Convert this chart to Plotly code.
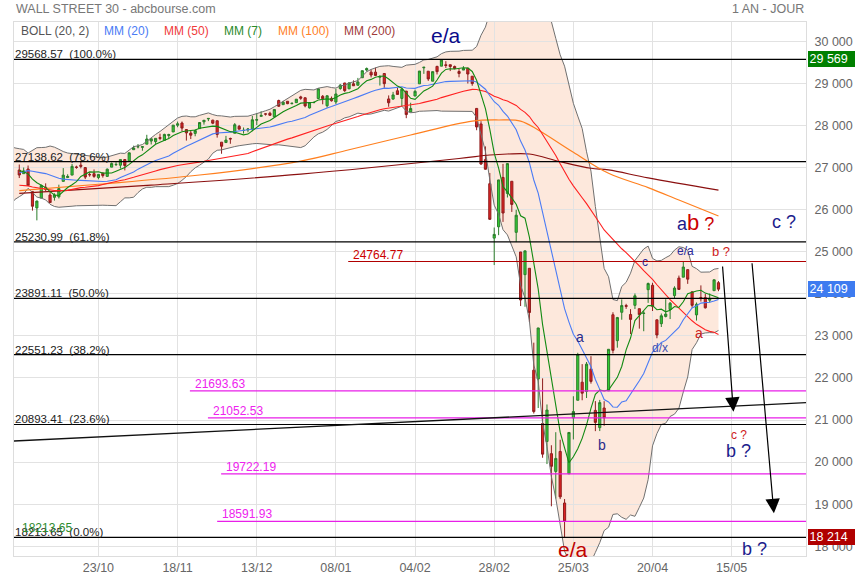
import pandas as pd
import plotly.graph_objects as go

# ---------------- data ----------------
# closes before the first visible bar (only used to seed MM(7), MM(20), MM(50), BOLL(20,2))
prior_close = [27220, 27223, 27154, 27172, 27349, 27270, 27141, 27192, 27221, 27198, 26864,
               26583, 26485, 25718, 26030, 26007, 26378, 26287, 25896, 26280, 25479, 25579,
               25886, 26136, 25962, 26203, 26252, 25629, 25899, 25778, 26036, 26362, 26403,
               26118, 26355, 26728, 26797, 26836, 26909, 27137, 27182, 27220, 27077, 27111,
               27147, 27095, 26935, 26950, 26808, 26971, 26891]

open_ = [26939, 26852, 26962, 26425, 26039, 26272, 26528, 26346, 26290, 26303, 26669, 26760, 26818, 27011,
         27054, 26996, 26831, 26851, 26760, 26863, 26787, 27007, 27067, 27053, 27186, 27154, 27421, 27492,
         27477, 27553, 27627, 27614, 27709, 27644, 27757, 27843, 28002, 28055, 27900, 27816, 27809, 27922,
         28084, 28154, 28123, 28109, 27600, 27591, 27688, 27812, 27977, 27878, 27891, 27913, 28123, 28213,
         28272, 28287, 28204, 28590, 28491, 28572, 28515, 28539, 28676, 28654, 28414, 28538, 28638, 28690,
         28466, 28640, 28556, 28874, 29006, 28868, 28988, 28953, 29131, 29313, 29263, 29264, 29141, 29231,
         28627, 28624, 28821, 28640, 28813, 28319, 28696, 28986, 29367, 29286, 29049, 29400, 29406, 29438,
         29440, 29398, 29279, 29313, 29359, 29167, 28402, 28033, 27185, 26614, 25321, 25590, 26762, 26383,
         26671, 25458, 24992, 24453, 24604, 22184, 21973, 20917, 20490, 20200, 19778, 20253, 19028, 19722,
         21050, 21469, 21898, 21679, 22208, 21228, 20819, 21285, 21693, 23500, 22885, 23559, 23719, 23507,
         23724, 23644, 23530, 24096, 24200, 23379, 23288, 23460, 23625, 23955, 24371, 24393, 24572, 24045,
         23497, 23911, 23906, 23846, 24072, 24262]
high = [27069, 26998, 27046, 26425, 26211, 26593, 26622, 26446, 26387, 26590, 26984, 26838, 27084, 27041,
        27137, 27008, 26879, 26952, 26843, 26882, 26974, 27117, 27124, 27189, 27200, 27353, 27517, 27556,
        27502, 27775, 27682, 27695, 27802, 27801, 27800, 28005, 28089, 28091, 27910, 27873, 27901, 28076,
        28121, 28175, 28133, 28109, 27600, 27750, 27707, 28054, 28010, 27949, 27937, 28224, 28290, 28337,
        28290, 28324, 28377, 28610, 28582, 28576, 28535, 28621, 28702, 28664, 28548, 28560, 28873, 28720,
        28708, 28685, 28866, 28978, 29009, 29009, 29068, 29127, 29300, 29374, 29332, 29373, 29189, 29232,
        28711, 28795, 28893, 28892, 28813, 28537, 28848, 29290, 29380, 29286, 29277, 29415, 29569, 29525,
        29441, 29420, 29345, 29407, 29359, 29167, 28402, 28098, 27500, 26868, 25573, 26706, 27084, 27102,
        26671, 25995, 24992, 25020, 24604, 22837, 23190, 21989, 21369, 20400, 20710, 20531, 19122, 20704,
        21564, 22596, 22327, 22378, 22516, 21449, 21477, 21447, 22680, 23560, 23449, 23865, 23760, 23633,
        24006, 23644, 23588, 24265, 24260, 23384, 23530, 23869, 23804, 24176, 24431, 24765, 24572, 24045,
        23791, 24198, 24000, 24006, 24332, 24300]
low = [26748, 26852, 26562, 25974, 25743, 26272, 26439, 26156, 26212, 26262, 26669, 26748, 26818, 26969,
       26978, 26722, 26780, 26754, 26719, 26758, 26787, 27007, 27033, 26974, 26929, 27154, 27421, 27453,
       27396, 27553, 27546, 27560, 27646, 27638, 27700, 27843, 27955, 27864, 27638, 27674, 27740, 27922,
       28016, 28100, 28027, 27708, 27325, 27586, 27562, 27812, 27906, 27804, 27836, 27860, 28004, 28213,
       28232, 28228, 28197, 28438, 28491, 28503, 28500, 28539, 28608, 28428, 28400, 28530, 28627, 28500,
       28420, 28565, 28503, 28846, 28794, 28859, 28946, 28945, 29131, 29280, 29138, 29171, 28946, 28893,
       28441, 28608, 28735, 28458, 28170, 28319, 28696, 28986, 29223, 29056, 29049, 29209, 29406, 29363,
       29289, 29330, 29141, 29313, 28993, 28940, 27884, 27060, 26947, 25755, 24681, 25391, 25706, 26286,
       25943, 25227, 23707, 23690, 23328, 21154, 21285, 20103, 19953, 18950, 19134, 19121, 18214, 19722,
       20538, 21469, 21469, 21522, 21864, 20735, 20737, 20863, 21693, 22581, 22718, 23382, 23640, 23042,
       23636, 23170, 23109, 23783, 23589, 22942, 23209, 23437, 23398, 23876, 24094, 24393, 24234, 23666,
       23362, 23814, 23648, 23793, 24072, 24060]
close = [26820, 26917, 26573, 26078, 26201, 26573, 26478, 26165, 26347, 26497, 26817, 26787, 27025, 27001,
         27026, 26770, 26827, 26788, 26834, 26806, 26958, 27091, 27071, 27186, 27046, 27347, 27462, 27492,
         27493, 27675, 27681, 27691, 27691, 27784, 27782, 28005, 28036, 27934, 27821, 27766, 27876, 28067,
         28121, 28164, 28051, 27783, 27503, 27650, 27677, 28015, 27909, 27881, 27911, 28132, 28135, 28235,
         28267, 28239, 28377, 28455, 28551, 28515, 28525, 28621, 28645, 28462, 28538, 28545, 28868, 28634,
         28703, 28584, 28745, 28957, 28824, 29009, 28940, 29030, 29298, 29348, 29196, 29186, 29160, 28990,
         28536, 28723, 28734, 28859, 28256, 28400, 28808, 29290, 29380, 29103, 29276, 29276, 29551, 29423,
         29398, 29350, 29232, 29348, 29219, 28992, 27961, 27081, 26957, 25767, 25409, 26703, 25917, 27091,
         26121, 25865, 23851, 25018, 23553, 21200, 23186, 20189, 21237, 19899, 20087, 19174, 18592, 20704,
         21200, 22552, 21637, 22327, 21917, 20943, 21413, 21053, 22680, 22654, 23434, 23719, 23700, 23390,
         23950, 23505, 23538, 24242, 23700, 23019, 23475, 23516, 23775, 24134, 24102, 24634, 24346, 23724,
         23750, 23883, 23665, 23876, 24331, 24109]

# moving averages MM(100) / MM(200) (bar index, value)
mm100_idx = [0, 18, 41, 64, 75, 89, 103, 109, 114, 118, 126, 134, 143, 150, 159]
mm100_val = [26450, 26600, 26820, 27150, 27420, 27770, 28100, 28127, 28100, 27890, 27360, 26860, 26520, 26225, 25845]
mm200_idx = [0, 30, 64, 100, 107, 111, 116, 123, 130, 134, 143, 159]
mm200_val = [26384, 26580, 26840, 27212, 27295, 27319, 27319, 27137, 26980, 26940, 26750, 26460]

tick_pos = [18, 36, 54, 72, 90, 108, 126, 144, 162]
tick_labels = ["23/10", "18/11", "13/12", "08/01", "04/02", "28/02", "25/03", "20/04", "15/05"]

fib_high = 29568.57
fib_low = 18213.65
fib_ratios = [1.0, 0.786, 0.618, 0.5, 0.382, 0.236, 0.0]

magenta_levels = [21693.63, 21052.53, 19722.19, 18591.93]
magenta_from = [38.8, 42.9, 45.9, 45.0]
red_level = 24764.77
red_from = 74.8

trend_x = [-1.2, 178.9]
trend_y = [20501, 21411]

arrow_tail_x = [159.9, 166.6]
arrow_tail_y = [24682, 24760]
arrow_head_x = [162.4, 171.6]
arrow_head_y = [21197, 18783]

# ---------------- computations ----------------
n = len(close)
xs = list(range(n))
off = len(prior_close)
allc = pd.Series(prior_close + close, dtype=float)
mm7 = allc.rolling(7).mean().iloc[off:].tolist()
mm20_all = allc.rolling(20).mean()
sd20_all = allc.rolling(20).std(ddof=0)
mm20 = mm20_all.iloc[off:].tolist()
mm50 = allc.rolling(50).mean().iloc[off:].tolist()
bb_up = (mm20_all + 2 * sd20_all).iloc[off - 2:].tolist()
bb_lo = (mm20_all - 2 * sd20_all).iloc[off - 2:].tolist()
bb_x = list(range(-2, n))

XR = [-1.2, 178.9]
YR = [17769, 30455]
FONT = "Liberation Sans, Arial, sans-serif"


def fmt_sp(v):
    return f"{v:,.0f}".replace(",", " ")


fig = go.Figure()

shapes = []
annotations = []

# Bollinger band area: a filled path in data coordinates, kept below the grid and the candles
pts = [(x, y) for x, y in zip(bb_x, bb_up)] + [(x, y) for x, y in zip(bb_x[::-1], bb_lo[::-1])]
band_path = "M " + " L ".join(f"{x},{y:.2f}" for x, y in pts) + " Z"
shapes.append(dict(type="path", xref="x", yref="y", path=band_path, fillcolor="#fde8dc",
                   line=dict(width=0), layer="below"))

fig.add_trace(go.Candlestick(
    x=xs, open=open_, high=high, low=low, close=close,
    increasing=dict(line=dict(color="#2b7d2b", width=1), fillcolor="#33cc33"),
    decreasing=dict(line=dict(color="#8e1d1d", width=1), fillcolor="#dd2222"),
    whiskerwidth=0, hoverinfo="skip", showlegend=False))

fig.add_trace(go.Scatter(x=bb_x, y=bb_up, mode="lines", line=dict(color="#707070", width=1),
                         hoverinfo="skip", showlegend=False))
fig.add_trace(go.Scatter(x=bb_x, y=bb_lo, mode="lines", line=dict(color="#707070", width=1),
                         hoverinfo="skip", showlegend=False))
fig.add_trace(go.Scatter(x=mm200_idx, y=mm200_val, mode="lines", line=dict(color="#8b1010", width=1.2, shape="spline"),
                         hoverinfo="skip", showlegend=False))
fig.add_trace(go.Scatter(x=mm100_idx, y=mm100_val, mode="lines", line=dict(color="#ff7f1e", width=1.2, shape="spline"),
                         hoverinfo="skip", showlegend=False))
fig.add_trace(go.Scatter(x=xs, y=mm50, mode="lines", line=dict(color="#ff2020", width=1.1),
                         hoverinfo="skip", showlegend=False))
fig.add_trace(go.Scatter(x=xs, y=mm20, mode="lines", line=dict(color="#4a7bf5", width=1.1),
                         hoverinfo="skip", showlegend=False))
fig.add_trace(go.Scatter(x=xs, y=mm7, mode="lines", line=dict(color="#128a12", width=1.1),
                         hoverinfo="skip", showlegend=False))

# Fibonacci retracement lines and labels
for r in fib_ratios:
    lvl = fib_low + r * (fib_high - fib_low)
    shapes.append(dict(type="line", xref="x domain", x0=0, x1=1, yref="y", y0=lvl, y1=lvl,
                       line=dict(color="#000000", width=1.2)))
    annotations.append(dict(xref="paper", x=0, xanchor="left", yref="y", y=lvl, yanchor="bottom",
                            yshift=-2, text=f"{lvl:.2f}  ({r * 100:.1f}%)", showarrow=False,
                            font=dict(family=FONT, size=11.5, color="#222222"), borderpad=0))
annotations.append(dict(xref="x", x=0.3, xanchor="left", yref="y", y=fib_low, yanchor="bottom",
                        yshift=1, text=f"{fib_low:.2f}", showarrow=False,
                        font=dict(family=FONT, size=12, color="#2e8b2e"), borderpad=0))

# magenta horizontal levels
for lvl, x0 in zip(magenta_levels, magenta_from):
    shapes.append(dict(type="line", xref="x", x0=x0, x1=XR[1], yref="y", y0=lvl, y1=lvl,
                       line=dict(color="#e81ee8", width=1.2)))
    annotations.append(dict(xref="x", x=x0, xanchor="left", xshift=4, yref="y", y=lvl, yanchor="bottom",
                            yshift=-1, text=f"{lvl:.2f}", showarrow=False,
                            font=dict(family=FONT, size=12, color="#ee22ee"), borderpad=0))
shapes.append(dict(type="line", xref="x", x0=red_from, x1=XR[1], yref="y", y0=red_level, y1=red_level,
                   line=dict(color="#b00000", width=1.2)))
annotations.append(dict(xref="x", x=red_from, xanchor="left", xshift=4, yref="y", y=red_level, yanchor="bottom",
                        yshift=-1, text=f"{red_level:.2f}", showarrow=False,
                        font=dict(family=FONT, size=12, color="#cc0000"), borderpad=0))

# trend line
shapes.append(dict(type="line", xref="x", yref="y", x0=trend_x[0], y0=trend_y[0], x1=trend_x[1], y1=trend_y[1],
                   line=dict(color="#111111", width=1.3)))

# projection arrows
for tx, ty, hx, hy in zip(arrow_tail_x, arrow_tail_y, arrow_head_x, arrow_head_y):
    annotations.append(dict(x=hx, y=hy, xref="x", yref="y", ax=tx, ay=ty, axref="x", ayref="y",
                            text="", showarrow=True, arrowhead=2, arrowsize=2.4, arrowwidth=1.2,
                            arrowcolor="#000000", standoff=0))

# wave labels
NAVY = "#1c1c8c"
RED = "#cc0000"
waves = [
    ("e/a", 97.0, 30134, "#0a0a8a", 21),
    ("e/a", 125.9, 17935, "#c00000", 21),
    ("c ?", 174.0, 25702, NAVY, 18),
    ("e/a", 151.6, 25026, "#2a2a9a", 12),
    ("b ?", 159.6, 25014, "#d02020", 13),
    ("c", 142.4, 24765, "#2a2a9a", 12),
    ("a", 154.6, 23055, "#cc2222", 14),
    ("d/x", 145.7, 22722, "#4050b0", 12),
    ("a", 127.5, 22971, "#2a2a8a", 14),
    ("b", 132.6, 20406, "#2a2a8a", 14),
    ("c ?", 163.6, 20632, "#d02020", 12),
    ("b ?", 163.5, 20263, NAVY, 18),
    ("b ?", 167.1, 17947, NAVY, 18),
]
for t, x, y, c, s in waves:
    annotations.append(dict(x=x, y=y, xref="x", yref="y", text=t, showarrow=False,
                            font=dict(family=FONT, size=s, color=c)))
annotations.append(dict(x=153.8, y=25702, xref="x", yref="y", showarrow=False,
                        text=f"<span style='color:{NAVY}'>a</span><span style='font-size:22px'>b</span> ?",
                        font=dict(family=FONT, size=18, color=RED)))

# header + indicator legend
annotations.append(dict(xref="paper", x=0, xanchor="left", yref="paper", y=1.0243, yanchor="middle",
                        text="WALL STREET 30 - abcbourse.com", showarrow=False,
                        font=dict(family=FONT, size=12.5, color="#777777")))
annotations.append(dict(xref="paper", x=1, xanchor="right", yref="paper", y=1.0243, yanchor="middle",
                        text="1 AN - JOUR", showarrow=False,
                        font=dict(family=FONT, size=12.5, color="#777777")))
legend_items = [("BOLL (20, 2)", 20, "#555555"), ("MM (20)", 103, "#4a7bf5"), ("MM (50)", 162.7, "#f03a3a"),
                ("MM (7)", 222.7, "#2a8a2a"), ("MM (100)", 276.7, "#ff7f27"), ("MM (200)", 343.3, "#a03a3a")]
for t, px, c in legend_items:
    annotations.append(dict(xref="paper", x=(px - 14) / 792, xanchor="left", yref="paper", y=0.9831,
                            yanchor="middle", text=t, showarrow=False, borderpad=0,
                            font=dict(family=FONT, size=12, color=c)))

# price boxes on the right axis
for val, col in [(fib_high, "#008000"), (close[-1], "#3d7bf0"), (fib_low, "#b00000")]:
    annotations.append(dict(xref="paper", x=1, xanchor="left", xshift=2, yref="y", y=val, yanchor="middle",
                            text=fmt_sp(val), showarrow=False, bgcolor=col, borderpad=1.5, borderwidth=0,
                            width=44, height=13, align="left",
                            font=dict(family=FONT, size=12.5, color="#ffffff")))

fig.update_layout(
    width=855, height=580, autosize=False,
    margin=dict(l=14, r=49, t=22, b=24, autoexpand=False),
    paper_bgcolor="#ffffff", plot_bgcolor="#ffffff",
    separators=". ",
    showlegend=False,
    boxgap=0.3,
    shapes=shapes, annotations=annotations,
    font=dict(family=FONT),
    xaxis=dict(range=XR, tickmode="array", tickvals=tick_pos, ticktext=tick_labels, automargin=False,
               showgrid=True, gridcolor="#e2e2e2", gridwidth=1, zeroline=False, ticks="",
               showline=True, linecolor="#dddddd", mirror=True,
               tickfont=dict(family=FONT, size=12.5, color="#666666"),
               rangeslider=dict(visible=False), fixedrange=True),
    yaxis=dict(range=YR, side="right", tickmode="array", tickvals=list(range(18000, 30001, 1000)),
               tickformat=",d", automargin=False, showgrid=True, gridcolor="#e2e2e2", gridwidth=1,
               zeroline=False, ticks="", showline=True, linecolor="#dddddd", mirror=True, ticklabelstandoff=5,
               tickfont=dict(family=FONT, size=12.5, color="#666666"), fixedrange=True),
)

fig.write_html("out.html", config={"displayModeBar": False, "responsive": False},
               post_script="document.body.style.margin='0';document.body.style.overflow='hidden';")
